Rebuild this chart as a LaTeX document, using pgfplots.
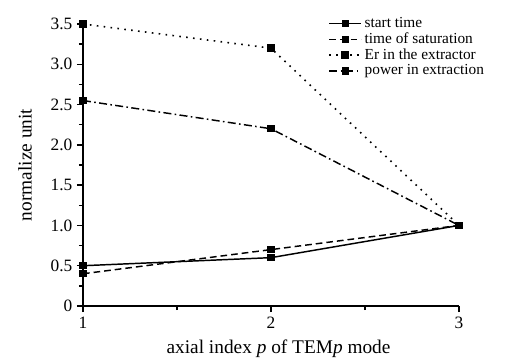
\documentclass[border=0pt]{standalone}
\usepackage{pgfplots}
\pgfplotsset{compat=1.18}
\usepackage{fontspec}
\setmainfont{Liberation Serif}
\begin{document}
\begin{tikzpicture}
\begin{axis}[
  at={(0,0)}, anchor=south west,
  scale only axis,
  width=282pt, height=211.5pt,
  xmin=1, xmax=3, ymin=0, ymax=3.5,
  axis lines*=left,
  axis line style={line width=1.8pt},
  tick align=outside, tick pos=left,
  xtick={1,2,3}, ytick={0,0.5,1,1.5,2,2.5,3,3.5},
  yticklabels={0,0.5,1.0,1.5,2.0,2.5,3.0,3.5},
  minor x tick num=1, minor y tick num=1,
  major tick length=4.5pt, minor tick length=3pt,
  every tick/.style={black, line width=1pt},
  /pgf/number format/assume math mode=true,
  ticklabel style={font=\fontsize{13}{14}\selectfont},
  xlabel={axial index \textit{p} of TEM\textit{p} mode},
  ylabel={normalize unit},
  label style={font=\fontsize{14.5}{15}\selectfont},
  xlabel style={at={(axis description cs:0.52,-0.152)}, anchor=center},
  ylabel style={at={(axis description cs:-0.154,0.5)}, anchor=center},
  clip=false,
  legend style={draw=none, fill=none, at={(0.652,1.03)}, anchor=north west,
    font=\fontsize{11.5}{12}\selectfont, row sep=0pt, inner sep=0pt,
    nodes={inner ysep=0pt, inner xsep=2pt, text height=8.8pt, text depth=3pt}},
  legend cell align=left,
  legend image code/.code={
    \draw[mark repeat=2,mark phase=2,#1] plot coordinates {(0pt,0pt) (12pt,0pt) (24pt,0pt)};
  },
  cycle list={
    {black, solid, line width=1.1pt, mark=square*, mark size=2.2pt, mark options={solid}},
    {black, dash pattern=on 5pt off 3pt, line width=1.1pt, mark=square*, mark size=2.2pt, mark options={solid}},
    {black, dash pattern=on 1.2pt off 4pt, line width=1.2pt, mark=square*, mark size=2.2pt, mark options={solid}},
    {black, dash pattern=on 6pt off 2.5pt on 1.2pt off 2.5pt, line width=1.1pt, mark=square*, mark size=2.2pt, mark options={solid}},
  },
]
\addplot coordinates {(1,0.5) (2,0.6) (3,1.0)};
\addlegendentry{start time}
\addplot coordinates {(1,0.4) (2,0.7) (3,1.0)};
\addlegendentry{time of saturation}
\addplot coordinates {(1,3.5) (2,3.2) (3,1.0)};
\addlegendentry{Er in the extractor}
\addplot coordinates {(1,2.55) (2,2.2) (3,1.0)};
\addlegendentry{power in extraction}
\end{axis}
\pgfresetboundingbox
\path[use as bounding box] (-62.25pt,-40.5pt) rectangle (319.5pt,229.5pt);
\end{tikzpicture}
\end{document}
